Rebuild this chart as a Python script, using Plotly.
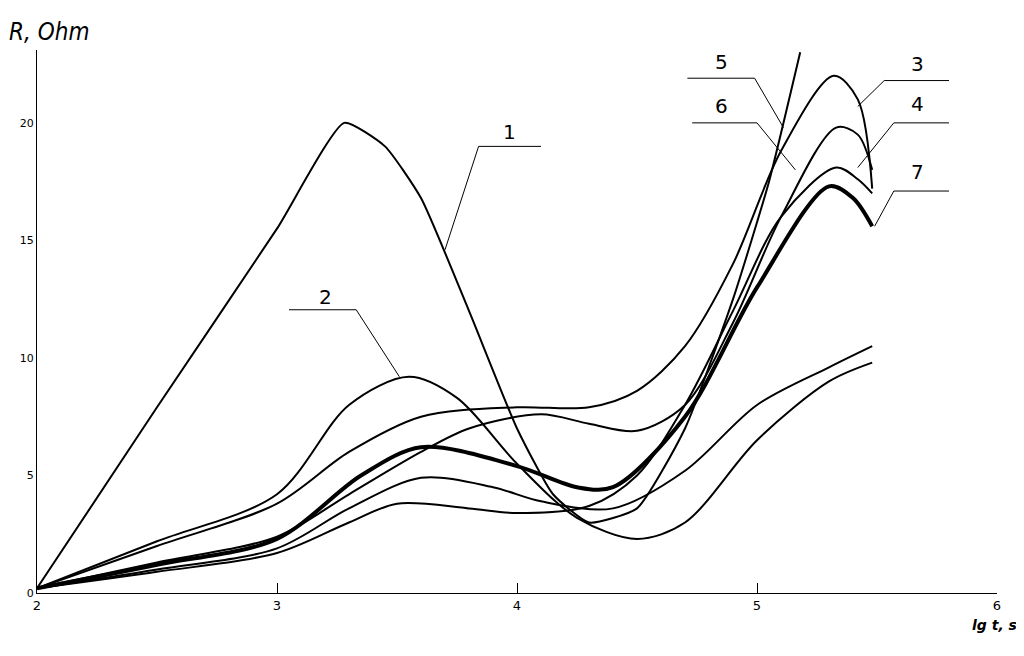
import plotly.graph_objects as go

x1 = [2, 2.5, 3.0, 3.28, 3.45, 3.6, 3.8, 4.0, 4.15, 4.3, 4.5, 4.7, 4.9, 5.05, 5.18]
y1 = [0.2, 7.9, 15.5, 20.0, 19.0, 16.8, 12.0, 7.0, 4.2, 3.0, 3.6, 7.0, 12.5, 17.5, 23.0]
x2 = [2, 2.5, 3.0, 3.3, 3.55, 3.75, 4.0, 4.25, 4.5, 4.7, 5.0, 5.3, 5.48]
y2 = [0.2, 2.2, 4.2, 8.0, 9.2, 8.3, 5.5, 3.2, 2.3, 3.0, 6.5, 9.0, 9.8]
x3 = [2, 2.5, 3.0, 3.3, 3.6, 4.0, 4.3, 4.5, 4.7, 4.9, 5.1, 5.32, 5.42, 5.48]
y3 = [0.2, 2.0, 3.8, 6.0, 7.5, 7.9, 7.9, 8.6, 10.5, 14.0, 18.8, 22.0, 21.0, 17.2]
x4 = [2, 2.5, 3.0, 3.3, 3.5, 3.8, 4.0, 4.3, 4.5, 4.7, 4.9, 5.1, 5.33, 5.42, 5.48]
y4 = [0.2, 0.9, 1.7, 3.0, 3.8, 3.6, 3.4, 3.7, 5.0, 8.0, 12.0, 16.0, 18.1, 17.6, 17.0]
x6 = [2, 2.5, 3.0, 3.3, 3.6, 3.8, 4.1, 4.3, 4.5, 4.7, 4.9, 5.1, 5.33, 5.42, 5.48]
y6 = [0.2, 1.3, 2.4, 4.2, 6.0, 7.0, 7.6, 7.2, 6.9, 8.0, 11.5, 16.0, 19.8, 19.5, 18.0]
x7 = [2, 2.5, 3.0, 3.35, 3.6, 4.0, 4.25, 4.4, 4.7, 5.0, 5.3, 5.4, 5.48]
y7 = [0.2, 1.2, 2.3, 5.0, 6.2, 5.4, 4.5, 4.5, 7.5, 13.0, 17.3, 16.8, 15.6]
xb = [2, 2.5, 3.0, 3.3, 3.6, 3.9, 4.1, 4.4, 4.7, 5.0, 5.3, 5.48]
yb = [0.2, 1.0, 1.9, 3.6, 4.9, 4.5, 3.9, 3.6, 5.2, 8.0, 9.6, 10.5]

labels = ["1", "2", "3", "4", "5", "6", "7"]
label_text = [(3.97, 19.6), (3.2, 12.6), (5.67, 22.5), (5.67, 20.8), (4.85, 22.6), (4.85, 20.7), (5.67, 17.9)]
leader = [
    [(4.1, 19.0), (3.84, 19.0), (3.7, 14.6)],
    [(3.05, 12.05), (3.33, 12.05), (3.51, 9.2)],
    [(5.8, 21.8), (5.53, 21.8), (5.42, 20.7)],
    [(5.8, 20.0), (5.57, 20.0), (5.42, 18.1)],
    [(4.71, 21.9), (4.99, 21.9), (5.11, 19.8)],
    [(4.73, 20.0), (5.0, 20.0), (5.16, 18.0)],
    [(5.8, 17.1), (5.57, 17.1), (5.49, 15.6)],
]

fig = go.Figure()
for xs, ys, w, sm in [(x1, y1, 2, 0.5), (x2, y2, 2, 0.9), (x3, y3, 2, 0.9), (x4, y4, 2, 0.9),
                      (x6, y6, 2, 0.9), (x7, y7, 4, 0.9), (xb, yb, 2, 0.9)]:
    fig.add_trace(go.Scatter(x=xs, y=ys, mode="lines", line=dict(color="black", width=w, shape="spline", smoothing=sm),
                             showlegend=False, hoverinfo="skip"))

for lab, (tx, ty), pts in zip(labels, label_text, leader):
    path = "M " + " L ".join(f"{px},{py}" for px, py in pts)
    fig.add_shape(type="path", path=path, xref="x", yref="y", line=dict(color="black", width=1))
    fig.add_annotation(x=tx, y=ty, text=lab, showarrow=False, font=dict(size=20, color="black", family="DejaVu Sans"))

fig.add_annotation(x=0, y=1.0, xref="paper", yref="paper", xanchor="left", yanchor="bottom", xshift=-30, yshift=2,
                   text="<i>R, Ohm</i>", showarrow=False, font=dict(size=24, family="DejaVu Sans Condensed", color="black"))
fig.add_annotation(x=1.0, y=0, xref="paper", yref="paper", xanchor="right", yanchor="top", xshift=22, yshift=-22,
                   text="<b><i>lg t, s</i></b>", showarrow=False, font=dict(size=14, family="DejaVu Sans", color="black"))

fig.update_xaxes(range=[2, 6], tickvals=[2, 3, 4, 5, 6], showgrid=False, zeroline=False, showline=True,
                 linecolor="black", linewidth=1, ticks="inside", ticklen=10, tickcolor="black",
                 tickfont=dict(size=13, family="DejaVu Sans", color="black"))
fig.update_yaxes(range=[0, 23.1], tickvals=[0, 5, 10, 15, 20], showgrid=False, zeroline=False, showline=True,
                 linecolor="black", linewidth=1, ticks="", tickfont=dict(size=11, family="DejaVu Sans", color="black"))
fig.update_layout(width=1024, height=656, margin=dict(l=29, r=35, t=42, b=71),
                  plot_bgcolor="white", paper_bgcolor="white")
fig.write_html("out.html")
